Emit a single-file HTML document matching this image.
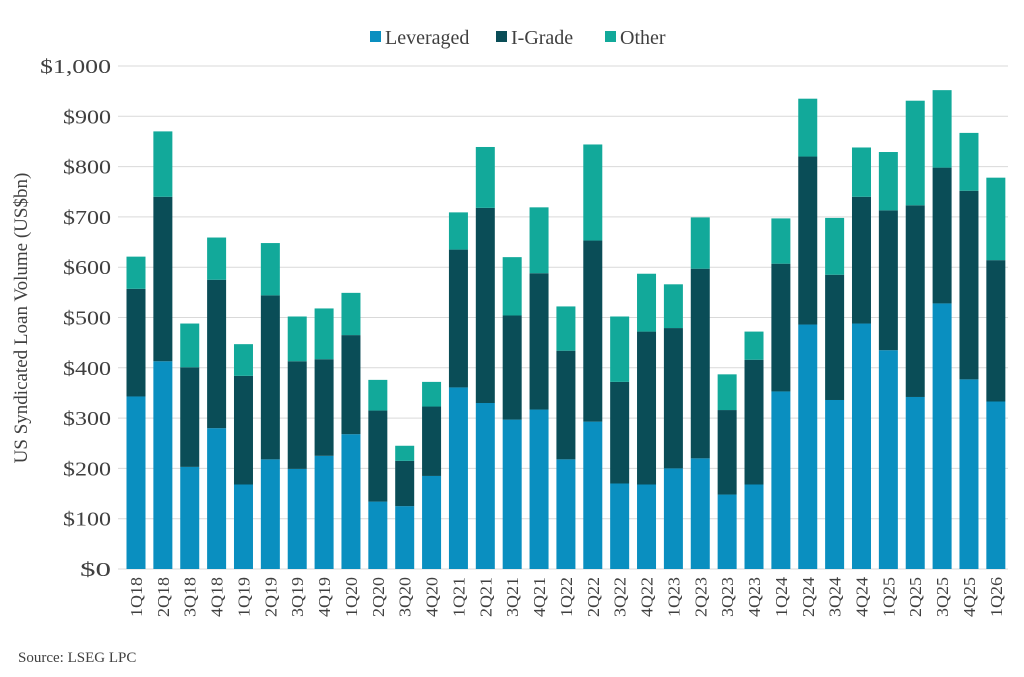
<!DOCTYPE html>
<html><head><meta charset="utf-8"><style>
body{margin:0;background:#fff;}
svg{display:block;font-family:"Liberation Serif",serif;}
</style></head><body>
<svg id="c" width="1024" height="677" xmlns="http://www.w3.org/2000/svg"></svg>
<script>
const d=[["1Q18",343,557,621],["2Q18",413,740,870],["3Q18",203,401,488],["4Q18",280,575,659],["1Q19",168,384,447],["2Q19",218,544,648],["3Q19",199,413,502],["4Q19",225,417,518],["1Q20",268,465,549],["2Q20",134,315,376],["3Q20",125,215,245],["4Q20",185,323,372],["1Q21",361,635,709],["2Q21",330,718,839],["3Q21",297,504,620],["4Q21",317,588,719],["1Q22",218,434,522],["2Q22",293,653,844],["3Q22",170,372,502],["4Q22",168,472,587],["1Q23",200,479,566],["2Q23",220,597,699],["3Q23",148,316,387],["4Q23",168,416,472],["1Q24",353,607,697],["2Q24",486,820,935],["3Q24",336,585,698],["4Q24",488,740,838],["1Q25",435,713,829],["2Q25",342,723,931],["3Q25",528,798,952],["4Q25",377,752,867],["1Q26",333,614,778]];
const y0=569,k=0.503;const Y=v=>y0-v*k;
let s='';
for(let i=0;i<=10;i++){const y=Y(i*100);s+=`<line x1="118" x2="1008" y1="${y}" y2="${y}" stroke="#d9d9d9" stroke-width="1"/>`;
s+=`<text x="111" y="${y+7}" text-anchor="end" font-size="20" fill="#404040" textLength="${i==10?71:i==0?31:48}" lengthAdjust="spacingAndGlyphs">$${i==10?'1,000':i*100}</text>`;}
const C=['#0a8fc0','#0a4d57','#12a99a'];
d.forEach((r,i)=>{const cx=136+i*26.87,x=cx-9.5;
s+=`<rect x="${x}" y="${Y(r[1])}" width="19" height="${r[1]*k}" fill="${C[0]}"/>`;
s+=`<rect x="${x}" y="${Y(r[2])}" width="19" height="${(r[2]-r[1])*k}" fill="${C[1]}"/>`;
s+=`<rect x="${x}" y="${Y(r[3])}" width="19" height="${(r[3]-r[2])*k}" fill="${C[2]}"/>`;
s+=`<text transform="translate(${cx+6},${577}) rotate(-90)" text-anchor="end" font-size="17" fill="#404040" textLength="40" lengthAdjust="spacingAndGlyphs">${r[0]}</text>`;});
s+=`<text transform="translate(27,318) rotate(-90)" text-anchor="middle" font-size="19" fill="#404040">US Syndicated Loan Volume (US$bn)</text>`;
s+=`<text x="18" y="662" font-size="15" fill="#404040">Source: LSEG LPC</text>`;
const L=[["Leveraged",370],["I-Grade",496],["Other",605]];
L.forEach((l,i)=>{s+=`<rect x="${l[1]}" y="31" width="11" height="11" fill="${C[i]}"/><text x="${l[1]+15}" y="44" font-size="20" fill="#404040">${l[0]}</text>`;});
document.getElementById('c').innerHTML=s;
</script>
</body></html>
